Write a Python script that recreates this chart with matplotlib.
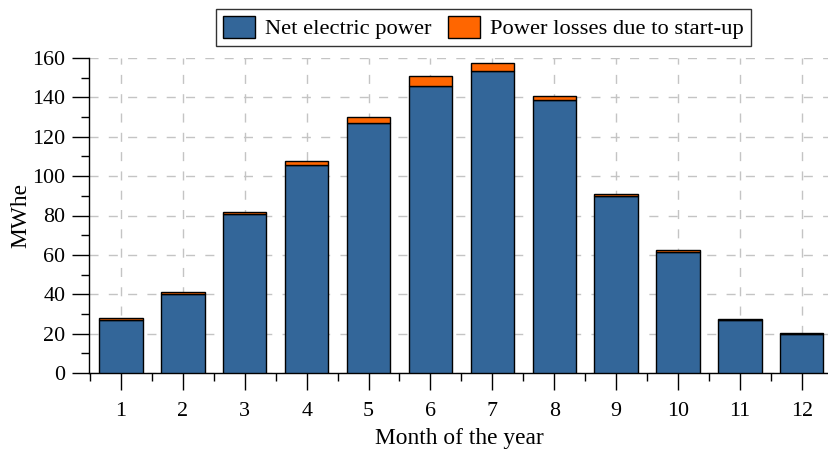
import matplotlib
matplotlib.use("Agg")
import matplotlib.pyplot as plt
from matplotlib.ticker import MultipleLocator, FixedLocator
from matplotlib.patches import Patch

plt.rcParams['font.family'] = ['Liberation Serif', 'DejaVu Serif']

months = [1, 2, 3, 4, 5, 6, 7, 8, 9, 10, 11, 12]
net_power = [27.0, 40.0, 80.8, 105.5, 127.0, 146.0, 153.5, 138.5, 90.0, 61.5, 27.0, 19.7]
startup_losses = [0.8, 1.0, 0.9, 2.0, 3.0, 5.0, 4.0, 2.0, 1.0, 1.0, 0.6, 0.6]

blue = '#336699'
orange = '#ff6600'

fig = plt.figure(figsize=(8.29, 4.49), dpi=100)
ax = fig.add_axes([89 / 829, (449 - 373) / 449, 1 - 89 / 829, (373 - 58) / 449])

ax.bar(months, net_power, width=0.7, color=blue, edgecolor='black', linewidth=1.0, zorder=3)
ax.bar(months, startup_losses, width=0.7, bottom=net_power, color=orange,
       edgecolor='black', linewidth=1.0, zorder=3)

ax.set_xlim(0.483, 12.44)
ax.set_ylim(0, 160)

ax.xaxis.set_major_locator(FixedLocator(months))
ax.xaxis.set_minor_locator(FixedLocator([m - 0.5 for m in months] + [12.5]))
ax.yaxis.set_major_locator(MultipleLocator(20))
ax.yaxis.set_minor_locator(MultipleLocator(10))

ax.tick_params(axis='both', which='major', direction='out', length=12, width=1.0,
               labelsize=15.8, color='black')
ax.tick_params(axis='x', which='major', pad=9)
ax.tick_params(axis='y', which='major', pad=5)
ax.tick_params(axis='both', which='minor', direction='out', length=6, width=1.0)

for side in ('top', 'right'):
    ax.spines[side].set_visible(False)
for side in ('left', 'bottom'):
    ax.spines[side].set_linewidth(1.0)

ax.grid(True, which='major', color='#c4c4c4', linewidth=1.0,
        linestyle=(0, (6.5, 7.4)), zorder=0)
ax.set_axisbelow(True)

ax.set_xlabel('Month of the year', fontsize=16.8, labelpad=5)
ax.set_ylabel('MWhe', fontsize=16.8, labelpad=1)

handles = [Patch(facecolor=blue, edgecolor='black', linewidth=1.0, label='Net electric power'),
           Patch(facecolor=orange, edgecolor='black', linewidth=1.0, label='Power losses due to start-up')]
leg = fig.legend(handles=handles, loc='center', bbox_to_anchor=(483.5 / 829, 1 - 27.5 / 449),
                 ncol=2, fontsize=16.2, frameon=True, fancybox=False, edgecolor='black',
                 handlelength=1.45, handleheight=1.15, handletextpad=0.45, columnspacing=0.7,
                 borderpad=0.3, borderaxespad=0)
leg.get_frame().set_linewidth(1.0)

fig.savefig('out.png', dpi=100)
